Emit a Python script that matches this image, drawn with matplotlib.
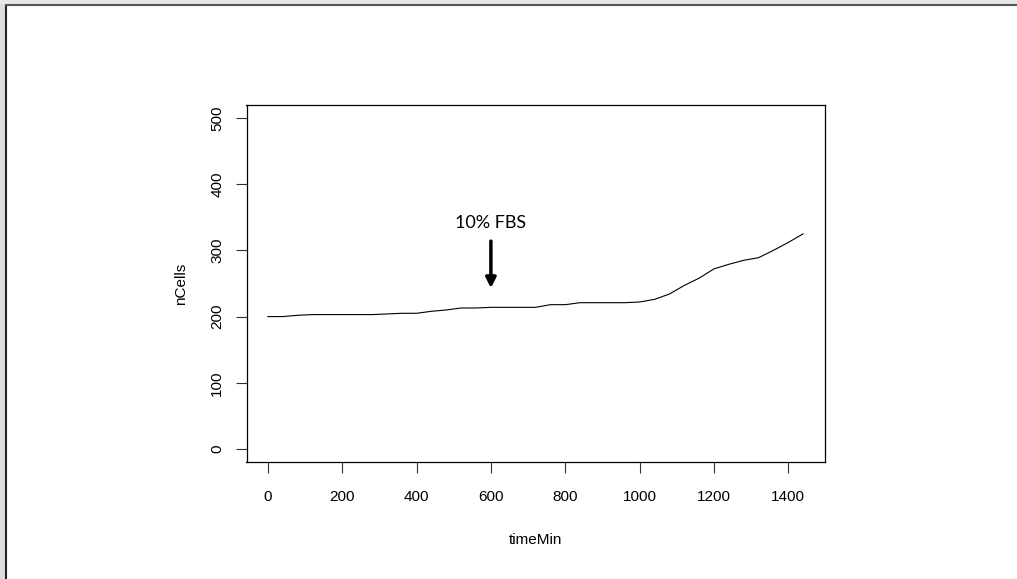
import numpy as np
import matplotlib.pyplot as plt
from matplotlib.lines import Line2D
from matplotlib.patches import Rectangle

# cell counts, one point every 40 min
time_min = [0, 40, 80, 120, 160, 200, 240, 280, 320, 360, 400, 440, 480, 520,
            560, 600, 640, 680, 720, 760, 800, 840, 880, 920, 960, 1000, 1040,
            1080, 1120, 1160, 1200, 1240, 1280, 1320, 1360, 1400, 1440]
n_cells = [200, 200, 202, 203, 203, 203, 203, 203, 204, 205, 205, 208, 210, 213,
           213, 214, 214, 214, 214, 218, 218, 221, 221, 221, 221, 222, 226,
           234, 247, 258, 272, 279, 285, 289, 300, 312, 325]

x_ticks = [0, 200, 400, 600, 800, 1000, 1200, 1400]
y_ticks = [0, 100, 200, 300, 400, 500]

W, H = 1017, 579
fig = plt.figure(figsize=(W / 100, H / 100), dpi=100)

# page frame (top + left edge with a soft shadow)
fig.add_artist(Rectangle((0, 0), 5 / W, 1, transform=fig.transFigure,
                         color="#dddddd", lw=0))
fig.add_artist(Rectangle((0, 1 - 4 / H), 1, 4 / H, transform=fig.transFigure,
                         color="#e8e8e8", lw=0))
fig.add_artist(Line2D([6 / W, 6 / W], [0, 1 - 5 / H], transform=fig.transFigure,
                      color="#222222", lw=1.5))
fig.add_artist(Line2D([6 / W, 1], [1 - 5 / H, 1 - 5 / H], transform=fig.transFigure,
                      color="#555555", lw=1.5))

ax = fig.add_axes([246.5 / W, 1 - 462.2 / H, 578 / W, 357.4 / H])
ax.plot(time_min, n_cells, color="black", lw=0.8)

ax.set_xlim(-57.6, 1497.6)
ax.set_ylim(-20, 520)
ax.set_xticks(x_ticks)
ax.set_yticks(y_ticks)

tick_font = dict(family="Liberation Sans", size=11)
ax.set_xticklabels([str(v) for v in x_ticks], **tick_font)
ax.set_yticklabels([str(v) for v in y_ticks], rotation=90, va="center", **tick_font)
ax.tick_params(axis="both", direction="out", length=8, width=0.8, color="#333333")
ax.tick_params(axis="x", pad=12)
ax.tick_params(axis="y", pad=8)

for s in ax.spines.values():
    s.set_linewidth(0.9)

ax.set_xlabel("timeMin", family="Liberation Sans", size=11, labelpad=21)
ax.set_ylabel("nCells", family="Liberation Sans", size=11, labelpad=16)

# treatment marker
ax.annotate("", xy=(600, 243), xytext=(600, 314),
            arrowprops=dict(arrowstyle="-|>,head_length=0.6,head_width=0.3",
                            color="black", lw=2.5, shrinkA=0, shrinkB=0))
ax.text(600, 341, "10% FBS", ha="center", va="center", family="Lato", size=13)

fig.savefig("out.png", dpi=100)
